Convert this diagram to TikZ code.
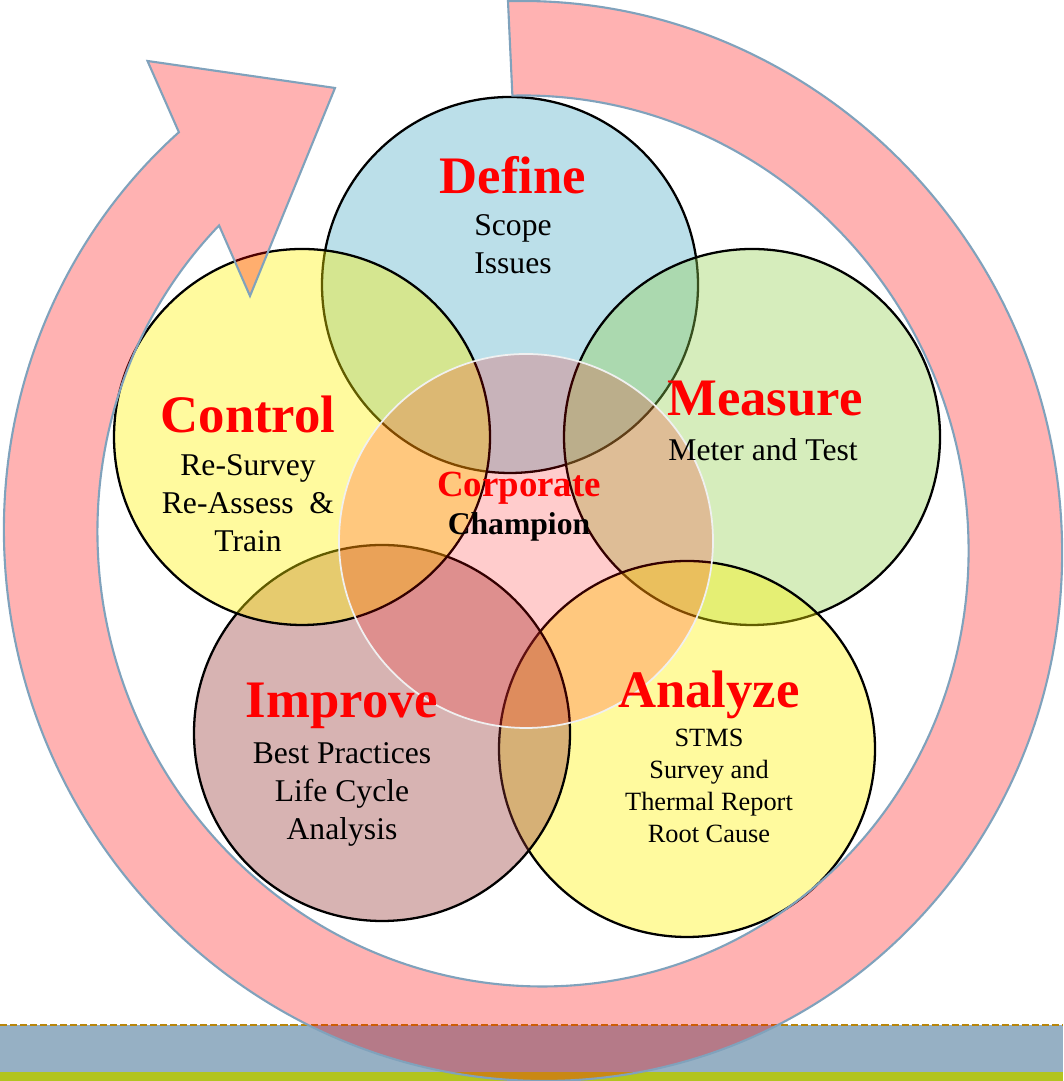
\documentclass[tikz,border=0pt]{standalone}
\usepackage{fontspec}
\setmainfont{Liberation Serif}
\usepackage{xcolor}
\usepackage{tikz}
\usetikzlibrary{calc}
\definecolor{defineblue}{RGB}{75,172,198}
\definecolor{measuregreen}{RGB}{146,208,80}
\definecolor{improvered}{RGB}{149,55,53}
\definecolor{arrowline}{RGB}{128,162,188}
\definecolor{bandblue}{RGB}{150,176,196}
\definecolor{bandgreen}{RGB}{178,196,30}
\definecolor{banddash}{RGB}{184,134,11}
\tikzset{
  phase/.style={draw=black, line width=0.65pt, fill opacity=0.38},
  phasetitle/.style={text=red, font=\fontsize{15}{18}\selectfont\bfseries, inner sep=0pt},
  phasetext/.style={align=center, font=\fontsize{9}{10.8}\selectfont, inner sep=0pt},
}

\begin{document}
\begin{tikzpicture}
    \useasboundingbox (0,0) rectangle (10.63,10.81);
    % band at the foot
    \fill[bandgreen] (0,0) rectangle (10.63,0.09);
    \fill[bandblue] (0,0.09) rectangle (10.63,0.56);
    \draw[banddash, line width=0.6pt, dash pattern=on 2pt off 0.85pt] (0,0.56) -- (10.63,0.56);

    \draw[phase, fill=defineblue] (5.10,7.96) circle (1.88);
    \draw[phase, fill=measuregreen] (7.52,6.44) circle (1.88);
    \draw[phase, fill=yellow] (6.87,3.32) circle (1.88);
    \draw[phase, fill=improvered] (3.82,3.48) circle (1.88);
    \draw[phase, fill=yellow] (3.02,6.44) circle (1.88);
    \draw[draw=white!94!black, line width=0.5pt, fill=red, fill opacity=0.2] (5.26,5.40) circle (1.87);

    % cycle arrow
    \coordinate (barbout) at (1.475,10.20);
    \coordinate (tip) at (3.35,9.93);
    \coordinate (barbin) at (2.50,7.85);
    \begin{scope}[shift={(5.33,5.40)}, xslant=-0.0207]
      \draw[arrowline, line width=0.6pt, fill=red, fill opacity=0.3, line join=miter]
        (91.5:5.29 and 5.40) arc[start angle=91.5, end angle=-229.2, x radius=5.29, y radius=5.40]
        -- (barbout) -- (tip) -- (barbin)
        -- (-225.1:4.355 and 4.455) arc[start angle=-225.1, end angle=91.5, x radius=4.355, y radius=4.455]
        -- cycle;
    \end{scope}

    \node[phasetitle] (define) at (5.13,9.06) {Define};
    \node[phasetext] (definetext) at (5.13,8.37) {Scope\\Issues};
    \node[phasetitle] (measure) at (7.65,6.82) {Measure};
    \node[phasetext] (measuretext) at (7.63,6.31) {Meter and Test};
    \node[phasetitle] (analyze) at (7.09,3.86) {Analyze};
    \node[phasetext, font=\fontsize{7.5}{9.1}\selectfont] (analyzetext) at (7.09,2.95)
      {STMS\\Survey and\\Thermal Report\\Root Cause};
    \node[phasetitle] (improve) at (3.42,3.75) {Improve};
    \node[phasetext] (improvetext) at (3.42,2.87) {Best Practices\\Life Cycle\\Analysis};
    \node[phasetitle] (control) at (2.48,6.67) {Control};
    \node[phasetext] (controltext) at (2.48,5.78) {Re-Survey\\Re-Assess~~\&\\Train};
    \node[phasetitle, font=\fontsize{10.5}{12}\selectfont\bfseries] (corporate) at (5.19,5.93) {Corporate};
    \node[phasetext, font=\fontsize{9}{11}\selectfont\bfseries] (champion) at (5.19,5.54) {Champion};
\end{tikzpicture}
\end{document}
